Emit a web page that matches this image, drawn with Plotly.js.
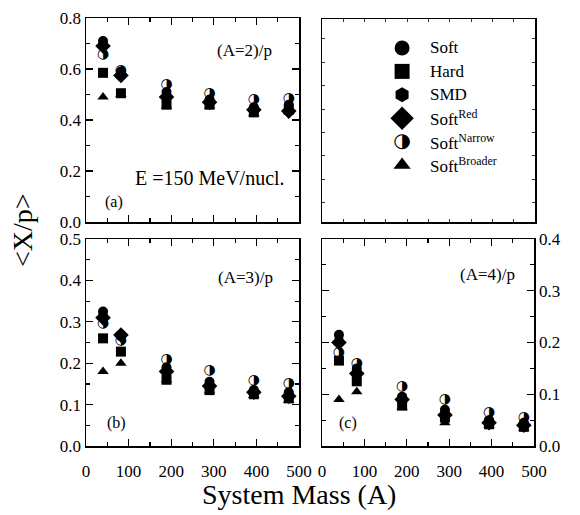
<!DOCTYPE html>
<html>
<head>
<meta charset="utf-8">
<script src="https://cdn.plot.ly/plotly-3.0.1.min.js"></script>
<style>html,body{margin:0;padding:0;background:#fff}#chart{width:580px;height:515px}</style>
</head>
<body>
<div id="chart"></div>
<script>
// ---- data ----
const systemMass = [40, 82, 189, 290, 394, 476];

const softA    = [0.71, 0.59, 0.51, 0.48, 0.45, 0.46];
const hardA    = [0.585, 0.505, 0.46, 0.46, 0.43, 0.44];
const smdA     = [0.70, 0.585, 0.50, 0.475, 0.445, 0.455];
const redA     = [0.69, 0.575, 0.49, 0.47, 0.44, 0.435];
const narrowA  = [0.655, 0.595, 0.54, 0.505, 0.48, 0.485];
const broaderA = [0.49, 0.50, 0.455, 0.455, 0.425, 0.435];

const softB    = [0.325, 0.265, 0.19, 0.155, 0.135, 0.13];
const hardB    = [0.26, 0.228, 0.16, 0.135, 0.125, 0.115];
const smdB     = [0.32, 0.27, 0.185, 0.15, 0.13, 0.125];
const redB     = [0.31, 0.268, 0.18, 0.145, 0.13, 0.12];
const narrowB  = [0.295, 0.255, 0.21, 0.183, 0.158, 0.15];
const broaderB = [0.18, 0.20, 0.16, 0.133, 0.122, 0.11];

const softC    = [0.215, 0.15, 0.095, 0.07, 0.05, 0.045];
const hardC    = [0.165, 0.125, 0.078, 0.055, 0.042, 0.037];
const smdC     = [0.205, 0.145, 0.095, 0.065, 0.05, 0.042];
const redC     = [0.20, 0.14, 0.09, 0.06, 0.045, 0.04];
const narrowC  = [0.18, 0.16, 0.115, 0.09, 0.065, 0.055];
const broaderC = [0.09, 0.105, 0.075, 0.045, 0.04, 0.035];

const seriesNames = ['Soft', 'Hard', 'SMD', 'Soft<sup>Red</sup>', 'Soft<sup>Narrow</sup>', 'Soft<sup>Broader</sup>'];
const panelLabels = ['(A=2)/p', '(A=3)/p', '(A=4)/p'];
const panelTags = ['(a)', '(b)', '(c)'];
const energyLabel = 'E =150 MeV/nucl.';

// ---- styles ----
const SERIF = 'Liberation Serif';
const symbols = ['circle', 'square', 'hexagon', 'diamond', null, 'triangle-up'];
const HALF = '\u25D1';
const MS = 10;

const panels = [
  {xa: 'x',  ya: 'y',  data: [softA, hardA, smdA, redA, narrowA, broaderA]},
  {xa: 'x2', ya: 'y2', data: [softB, hardB, smdB, redB, narrowB, broaderB]},
  {xa: 'x3', ya: 'y3', data: [softC, hardC, smdC, redC, narrowC, broaderC]}
];

const traces = [];
panels.forEach(p => {
  // draw order: broader, hard, red, smd, soft, narrow on top
  const order = [5, 1, 3, 2, 0, 4];
  order.forEach(i => {
    if (symbols[i]) {
      traces.push({x: systemMass, y: p.data[i], xaxis: p.xa, yaxis: p.ya, type: 'scatter', mode: 'markers',
        marker: {symbol: symbols[i], size: i === 3 ? MS + 2 : MS, color: 'black', line: {width: 0}},
        showlegend: false, hoverinfo: 'skip'});
    } else {
      traces.push({x: systemMass, y: p.data[i], xaxis: p.xa, yaxis: p.ya, type: 'scatter', mode: 'text',
        text: systemMass.map(() => HALF), textposition: 'middle center',
        textfont: {family: 'DejaVu Sans', size: 14, color: 'black'},
        showlegend: false, hoverinfo: 'skip'});
    }
  });
});

// legend box (4th panel)
const legendRows = seriesNames.map((_, i) => 6 - i);
const legendKeyX = 3.76;
symbols.forEach((s, i) => {
  if (s) {
    traces.push({x: [legendKeyX], y: [legendRows[i]], xaxis: 'x4', yaxis: 'y4', type: 'scatter', mode: 'markers',
      marker: {symbol: s, size: i === 3 ? 18 : 15, color: 'black', line: {width: 0}}, showlegend: false, hoverinfo: 'skip'});
  } else {
    traces.push({x: [legendKeyX], y: [legendRows[i]], xaxis: 'x4', yaxis: 'y4', type: 'scatter', mode: 'text',
      text: [HALF], textposition: 'middle center', textfont: {family: 'DejaVu Sans', size: 20, color: 'black'},
      showlegend: false, hoverinfo: 'skip'});
  }
});

const W = 580, H = 515;
const dx = (a, b) => [a / W, b / W];
const dy = (top, bot) => [1 - bot / H, 1 - top / H];

const baseAxis = {
  showline: true, linecolor: 'black', linewidth: 1.5, mirror: 'allticks',
  ticks: 'inside', ticklen: 7, tickwidth: 1.2, tickcolor: 'black',
  showgrid: false, zeroline: false, fixedrange: true,
  tickfont: {family: SERIF, size: 17, color: 'black'}
};
const xMinor = {dtick: 50, ticklen: 4, tickwidth: 1.2, tickcolor: 'black', ticks: 'inside'};

const layout = {
  width: W, height: H,
  margin: {l: 0, r: 0, t: 0, b: 0},
  paper_bgcolor: 'white', plot_bgcolor: 'white',
  showlegend: false,
  font: {family: SERIF, color: 'black'},
  xaxis: Object.assign({}, baseAxis, {domain: dx(86, 299), range: [0, 500], dtick: 100, showticklabels: false, minor: xMinor, anchor: 'y'}),
  yaxis: Object.assign({}, baseAxis, {domain: dy(18, 222), range: [0, 0.8], dtick: 0.2, tickformat: '.1f', minor: {dtick: 0.1, ticklen: 4, tickwidth: 1.2, tickcolor: 'black', ticks: 'inside'}, anchor: 'x'}),
  xaxis2: Object.assign({}, baseAxis, {domain: dx(86, 299), range: [0, 500], dtick: 100, minor: xMinor, anchor: 'y2', ticklabelstandoff: 9}),
  yaxis2: Object.assign({}, baseAxis, {domain: dy(239, 446), range: [0, 0.5], dtick: 0.1, tickformat: '.1f', minor: {dtick: 0.05, ticklen: 4, tickwidth: 1.2, tickcolor: 'black', ticks: 'inside'}, anchor: 'x2'}),
  xaxis3: Object.assign({}, baseAxis, {domain: dx(322, 534), range: [0, 500], dtick: 100, minor: xMinor, anchor: 'y3', ticklabelstandoff: 9}),
  yaxis3: Object.assign({}, baseAxis, {domain: dy(239, 446), range: [0, 0.4], dtick: 0.1, tickformat: '.1f', side: 'right', minor: {dtick: 0.05, ticklen: 4, tickwidth: 1.2, tickcolor: 'black', ticks: 'inside'}, anchor: 'x3'}),
  xaxis4: Object.assign({}, baseAxis, {domain: dx(322, 535), range: [0, 10], dtick: 1, ticklen: 3, tickwidth: 0.8, showticklabels: false, anchor: 'y4'}),
  yaxis4: Object.assign({}, baseAxis, {domain: dy(19, 222), range: [-1.436, 7.239], tick0: 6.385, dtick: 1, ticklen: 3, tickwidth: 0.8, showticklabels: false, anchor: 'x4'}),
  annotations: []
};

const ann = layout.annotations;
// panel labels
const lblPos = [
  {xr: 'x domain', yr: 'y domain', x: 0.883, y: 0.843},
  {xr: 'x2 domain', yr: 'y2 domain', x: 0.887, y: 0.816},
  {xr: 'x3 domain', yr: 'y3 domain', x: 0.92, y: 0.83}
];
const tagPos = [
  {xr: 'x domain', yr: 'y domain', x: 0.08, y: 0.098},
  {xr: 'x2 domain', yr: 'y2 domain', x: 0.089, y: 0.111},
  {xr: 'x3 domain', yr: 'y3 domain', x: 0.071, y: 0.111}
];
panelLabels.forEach((t, i) => {
  ann.push({text: t, xref: lblPos[i].xr, yref: lblPos[i].yr, x: lblPos[i].x, y: lblPos[i].y, xanchor: 'right', yanchor: 'middle',
    showarrow: false, font: {family: SERIF, size: 17, color: 'black'}});
  ann.push({text: panelTags[i], xref: tagPos[i].xr, yref: tagPos[i].yr, x: tagPos[i].x, y: tagPos[i].y, xanchor: 'left', yanchor: 'middle',
    showarrow: false, font: {family: SERIF, size: 16, color: 'black'}});
});
ann.push({text: energyLabel, xref: 'x domain', yref: 'y domain', x: 0.944, y: 0.216, xanchor: 'right', yanchor: 'middle',
  showarrow: false, font: {family: SERIF, size: 20, color: 'black'}});

// legend labels
seriesNames.forEach((t, i) => {
  ann.push({text: t, xref: 'x4', yref: 'y4', x: 4.98, y: legendRows[i], xanchor: 'left', yanchor: 'middle',
    showarrow: false, font: {family: SERIF, size: 17, color: 'black'}});
});

// axis titles
ann.push({text: '&lt;X/p&gt;', xref: 'paper', yref: 'paper', x: 22 / W, y: 1 - 230 / H, textangle: -90,
  xanchor: 'center', yanchor: 'middle', showarrow: false, font: {family: SERIF, size: 28, color: 'black'}});
ann.push({text: 'System Mass (A)', xref: 'paper', yref: 'paper', x: 299 / W, y: 1 - 494 / H,
  xanchor: 'center', yanchor: 'middle', showarrow: false, font: {family: SERIF, size: 28, color: 'black'}});

Plotly.newPlot('chart', traces, layout, {staticPlot: true, displayModeBar: false});
</script>
</body>
</html>
